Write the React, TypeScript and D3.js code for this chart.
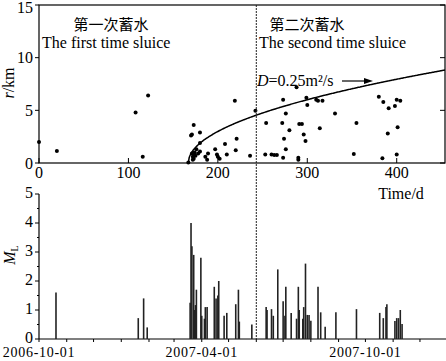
import React, { useEffect, useRef } from 'react';
import * as d3 from 'd3';

// top panel: earthquake distance from the well vs. time
const quakeDays = [0, 20, 108, 116, 122, 167, 170, 171, 173, 180, 180, 176, 180, 171, 172, 173, 174, 173, 175, 172, 178, 186, 188, 189, 197, 199, 200, 202, 208, 210, 219, 220, 221, 236, 242, 253, 254, 260, 263, 266, 272, 273, 273, 274, 276, 276, 280, 288, 290, 290, 291, 294, 296, 298, 299, 300, 310, 312, 314, 317, 331, 352, 355, 380, 384, 385, 390, 391, 398, 400, 400, 401, 404];
const quakeR = [2.0, 1.15, 4.8, 0.6, 6.4, 0.05, 2.6, 2.7, 3.6, 2.9, 1.9, 1.3, 1.1, 0.9, 0.6, 0.8, 1.0, 0.4, 0.7, 0.3, 0.9, 0.6, 0.3, 0.9, 1.3, 0.8, 0.6, 0.4, 1.8, 0.8, 5.9, 1.2, 2.3, 0.7, 4.95, 0.8, 3.8, 0.8, 0.75, 0.75, 3.8, 6.0, 0.5, 2.3, 4.7, 1.3, 3.1, 7.2, 0.5, 0.3, 3.7, 3.7, 2.7, 2.1, 6.2, 5.5, 6.0, 5.9, 3.3, 5.9, 4.7, 0.85, 3.8, 6.3, 0.45, 5.8, 2.8, 5.2, 5.4, 6.0, 0.8, 3.4, 5.9];

// bottom panel: magnitudes
const eventDays = [19, 111, 117, 121, 169, 170, 171, 173, 174, 175, 176, 181, 182, 185, 186, 188, 196, 198, 200, 201, 207, 210, 220, 223, 224, 238, 254, 255, 260, 262, 267, 273, 275, 276, 282, 288, 290, 291, 295, 296, 298, 300, 302, 304, 312, 315, 320, 332, 355, 381, 385, 388, 389, 398, 400, 402, 404, 406];
const eventMag = [1.6, 0.72, 1.4, 0.4, 1.25, 4.0, 3.2, 2.9, 1.0, 1.17, 1.7, 2.8, 0.8, 0.7, 1.1, 1.1, 1.8, 1.4, 1.5, 2.0, 0.8, 0.9, 1.2, 1.7, 0.6, 0.5, 1.1, 1.0, 1.03, 0.8, 2.4, 1.3, 0.8, 1.8, 0.9, 0.7, 1.8, 1.0, 0.7, 1.1, 2.6, 0.83, 0.83, 0.63, 1.8, 0.92, 0.42, 0.92, 1.03, 0.9, 0.72, 1.1, 1.2, 0.62, 0.72, 0.72, 1.0, 0.52];

const dayTicks = [0, 100, 200, 300, 400];
const rTicks = [0, 5, 10, 15];
const mTicks = [0, 1, 2, 3, 4, 5];
const dateLabels = ['2006-10-01', '2007-04-01', '2007-10-01'];

const startDate = '2006-10-01';
const secondSluiceDay = 243;
const injectionStartDay = 167;
const diffusivity = 0.25; // m^2/s

const serif = '"Liberation Serif", "DejaVu Serif", serif';
const cjk = '"Noto Sans CJK SC", sans-serif';

const App = () => {
  const ref = useRef<SVGSVGElement>(null);

  useEffect(() => {
    const svg = d3.select(ref.current);
    svg.selectAll('*').remove();

    const x = d3.scaleLinear().domain([0, 454]).range([39, 445]);
    const yR = d3.scaleLinear().domain([0, 15]).range([163, 5]);
    const yM = d3.scaleLinear().domain([0, 5]).range([339, 194]);
    const parse = d3.timeParse('%Y-%m-%d');
    const t0 = parse(startDate) as Date;
    const xDate = d3.scaleTime()
      .domain([t0, d3.timeDay.offset(t0, 454)])
      .range([39, 445]);

    // top frame
    svg.append('rect')
      .attr('x', x(0)).attr('y', yR(15))
      .attr('width', x(454) - x(0)).attr('height', yR(0) - yR(15))
      .attr('fill', 'none').attr('stroke', '#000').attr('stroke-width', 1.2);

    const top = svg.append('g');
    rTicks.forEach(t => {
      top.append('line').attr('x1', x(0) - 4).attr('x2', x(0))
        .attr('y1', yR(t)).attr('y2', yR(t)).attr('stroke', '#000');
      top.append('line').attr('x1', x(454) - 5).attr('x2', x(454))
        .attr('y1', yR(t)).attr('y2', yR(t)).attr('stroke', '#000');
      top.append('text').attr('x', 33).attr('y', Math.max(yR(t), 7)).attr('dy', '0.35em')
        .attr('text-anchor', 'end').attr('font-family', serif).attr('font-size', 16)
        .text(t);
    });
    dayTicks.forEach(t => {
      top.append('line').attr('x1', x(t)).attr('x2', x(t))
        .attr('y1', yR(0)).attr('y2', yR(0) - 5).attr('stroke', '#000');
      top.append('text').attr('x', x(t)).attr('y', 178)
        .attr('text-anchor', 'middle').attr('font-family', serif).attr('font-size', 16)
        .text(t);
    });

    // triggering front r = sqrt(4*pi*D*t)
    const curveDays = d3.range(injectionStartDay, 455, 1);
    const line = d3.line<number>()
      .x(d => x(d))
      .y(d => yR(Math.sqrt(4 * Math.PI * diffusivity * (d - injectionStartDay) * 86400) / 1000))
      .curve(d3.curveMonotoneX);
    top.append('path').datum(curveDays).attr('d', line)
      .attr('fill', 'none').attr('stroke', '#000').attr('stroke-width', 1.5);

    top.selectAll('circle').data(quakeDays).enter().append('circle')
      .attr('cx', d => x(d)).attr('cy', (d, i) => yR(quakeR[i]))
      .attr('r', 2).attr('fill', '#000');

    // labels
    top.append('text').attr('x', 111).attr('y', 30).attr('text-anchor', 'middle')
      .attr('font-family', cjk).attr('font-size', 15).text('第一次蓄水');
    top.append('text').attr('x', 42).attr('y', 48)
      .attr('font-family', serif).attr('font-size', 16).text('The first time sluice');
    top.append('text').attr('x', 307).attr('y', 30).attr('text-anchor', 'middle')
      .attr('font-family', cjk).attr('font-size', 15).text('第二次蓄水');
    top.append('text').attr('x', 259).attr('y', 48)
      .attr('font-family', serif).attr('font-size', 16).text('The second time sluice');
    const dl = top.append('text').attr('x', 257).attr('y', 86)
      .attr('font-family', serif).attr('font-size', 16);
    dl.append('tspan').attr('font-style', 'italic').text('D');
    dl.append('tspan').text('=0.25m²/s');
    top.append('line').attr('x1', 342).attr('x2', 366).attr('y1', 81).attr('y2', 81)
      .attr('stroke', '#000').attr('stroke-width', 1.2);
    top.append('path').attr('d', 'M373,81 L364,78 L364,84 Z').attr('fill', '#000');

    top.append('text').attr('x', 401).attr('y', 199).attr('text-anchor', 'middle')
      .attr('font-family', serif).attr('font-size', 16).text('Time/d');
    const rl = top.append('text').attr('transform', 'translate(14,83) rotate(-90)')
      .attr('text-anchor', 'middle').attr('font-family', serif).attr('font-size', 16);
    rl.append('tspan').attr('font-style', 'italic').text('r');
    rl.append('tspan').text('/km');

    // bottom panel
    const bot = svg.append('g');
    bot.append('line').attr('x1', x(0)).attr('x2', x(0)).attr('y1', yM(5)).attr('y2', yM(0))
      .attr('stroke', '#000').attr('stroke-width', 1.2);
    bot.append('line').attr('x1', x(0)).attr('x2', 446).attr('y1', yM(0)).attr('y2', yM(0))
      .attr('stroke', '#000').attr('stroke-width', 1.2);
    d3.range(0, 5.01, 0.5).forEach(t => {
      const major = Number.isInteger(t);
      bot.append('line').attr('x1', x(0) - (major ? 4 : 2)).attr('x2', x(0))
        .attr('y1', yM(t)).attr('y2', yM(t)).attr('stroke', '#000');
    });
    mTicks.forEach(t => {
      bot.append('text').attr('x', 33).attr('y', yM(t) - 1.5).attr('dy', '0.35em')
        .attr('text-anchor', 'end').attr('font-family', serif).attr('font-size', 16)
        .text(t);
    });
    xDate.ticks(d3.timeMonth.every(1)).forEach(d => {
      bot.append('line').attr('x1', xDate(d)).attr('x2', xDate(d))
        .attr('y1', yM(0)).attr('y2', yM(0) + 3).attr('stroke', '#000');
    });
    dateLabels.forEach(s => {
      bot.append('text').attr('x', xDate(parse(s) as Date)).attr('y', 357)
        .attr('text-anchor', 'middle').attr('font-family', serif).attr('font-size', 14)
        .attr('letter-spacing', 0.7).text(s);
    });

    bot.selectAll('.bar').data(eventDays).enter().append('line')
      .attr('class', 'bar')
      .attr('x1', d => x(d)).attr('x2', d => x(d))
      .attr('y1', yM(0)).attr('y2', (d, i) => yM(eventMag[i]))
      .attr('stroke', '#222').attr('stroke-width', 1.6);

    const ml = bot.append('text').attr('transform', 'translate(15,255) rotate(-90)')
      .attr('text-anchor', 'middle').attr('font-family', serif).attr('font-size', 16);
    ml.append('tspan').attr('font-style', 'italic').text('M');
    ml.append('tspan').attr('font-size', 10).attr('dy', 3).text('L');

    // second sluice marker through both panels
    svg.append('line').attr('x1', x(secondSluiceDay)).attr('x2', x(secondSluiceDay))
      .attr('y1', yR(15)).attr('y2', yM(0))
      .attr('stroke', '#222').attr('stroke-width', 1).attr('stroke-dasharray', '2,1');
  }, []);

  return (
    <svg ref={ref} width={446} height={361}
      style={{ position: 'absolute', left: 0, top: 0, background: '#fff' }} />
  );
};

export default App;
